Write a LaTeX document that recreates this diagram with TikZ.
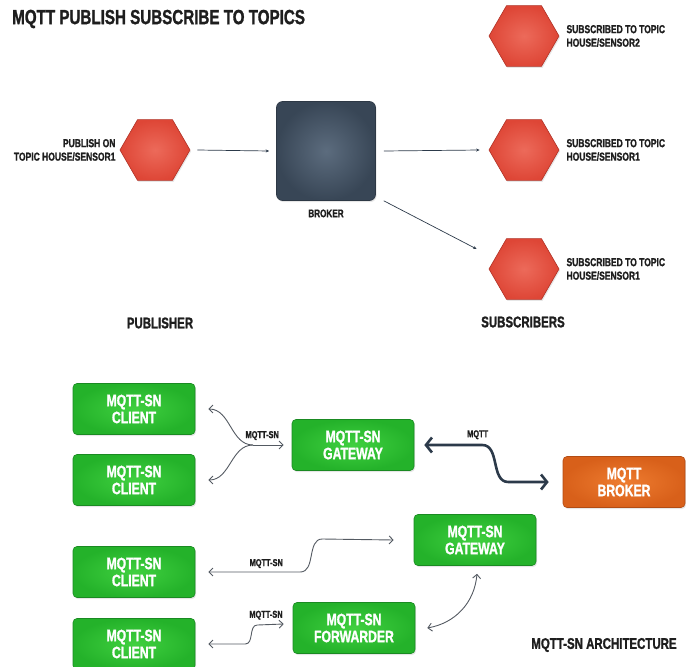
\documentclass[tikz,border=0pt]{standalone}
\usepackage{fontspec}
\setmainfont[FakeStretch=0.74, BoldFeatures={FakeBold=1.3}]{Liberation Sans}
\usepackage{xcolor}
\usepackage{tikz}
\usetikzlibrary{shapes.geometric, arrows.meta, positioning, shadows}
\definecolor{hexred}{RGB}{222, 70, 54}
\definecolor{hexredlight}{RGB}{236, 106, 90}
\definecolor{hexedge}{RGB}{176, 50, 38}
\definecolor{brokerdark}{RGB}{56, 70, 86}
\definecolor{brokerlight}{RGB}{92, 108, 126}
\definecolor{snbright}{RGB}{64, 208, 64}
\definecolor{sngreen}{RGB}{36, 178, 42}
\definecolor{snedge}{RGB}{26, 138, 34}
\definecolor{orangelight}{RGB}{238, 124, 48}
\definecolor{orangebox}{RGB}{216, 96, 26}
\definecolor{orangeedge}{RGB}{178, 76, 20}
\definecolor{wiregray}{RGB}{84, 90, 98}
\definecolor{wirenavy}{RGB}{44, 58, 74}
\definecolor{inkblack}{RGB}{30, 30, 30}

\begin{document}
\begin{tikzpicture}[
    x=1pt, y=1pt,
    font=\bfseries,
    hexnode/.style={regular polygon, regular polygon sides=6, minimum size=70pt, inner sep=0pt, draw=hexedge, line width=0.6pt, inner color=hexredlight, outer color=hexred, drop shadow={opacity=0.2, shadow xshift=1pt, shadow yshift=-1.5pt}},
    hexlabel/.style={font=\bfseries\fontsize{11.5}{13.5}\selectfont, text=inkblack, inner sep=0pt},
    sectionlabel/.style={font=\bfseries\fontsize{15.5}{18}\selectfont, text=inkblack, inner sep=0pt},
    snbox/.style={draw=snedge, line width=0.6pt, rounded corners=4pt, minimum width=122pt, minimum height=51pt, inner color=snbright, outer color=sngreen, text=white, align=center, font=\bfseries\fontsize{16.5}{17}\selectfont, drop shadow={opacity=0.2, shadow xshift=1pt, shadow yshift=-1.5pt}},
    brokerbox/.style={snbox, draw=orangeedge, inner color=orangelight, outer color=orangebox},
    wirelabel/.style={font=\bfseries\fontsize{10}{12}\selectfont, text=inkblack, inner sep=1.5pt},
    pubarrow/.style={-{Stealth[length=3.5pt, width=3pt]}, line width=0.7pt, wirenavy},
    snto/.style={-{Straight Barb[length=4pt, width=8pt]}, line width=0.9pt, wiregray},
    sn/.style={{Straight Barb[length=4pt, width=8pt]}-{Straight Barb[length=4pt, width=8pt]}, line width=0.9pt, wiregray},
    mqtt/.style={{Straight Barb[length=6pt, width=15pt]}-{Straight Barb[length=6pt, width=15pt]}, line width=2.6pt, wirenavy}
]
    \useasboundingbox (0,0) rectangle (686,-667);

    % Publish / subscribe - top half
    \node[anchor=west, font=\bfseries\fontsize{20.5}{24}\selectfont, text=inkblack, inner sep=0pt] (title) at (12,-19) {MQTT PUBLISH SUBSCRIBE TO TOPICS};

    \node[hexnode] (pub) at (155,-150) {};
    \node[hexlabel, align=right, left=4pt of pub] (publabel) {PUBLISH ON\\TOPIC HOUSE/SENSOR1};

    \node[draw=brokerdark!80!black, line width=0.6pt, rounded corners=6pt, minimum size=99pt, inner color=brokerlight, outer color=brokerdark, drop shadow={opacity=0.2, shadow xshift=1pt, shadow yshift=-1.5pt}] (broker) at (326,-151) {};
    \node[wirelabel, font=\bfseries\fontsize{11}{13}\selectfont, below=7pt of broker] (brokerlabel) {BROKER};

    \node[hexnode] (subtwo) at (524,-36) {};
    \node[hexnode] (subone) at (524,-150) {};
    \node[hexnode] (subthree) at (524,-269) {};
    \node[hexlabel, align=left, right=7pt of subtwo] (subtwolabel) {SUBSCRIBED TO TOPIC\\HOUSE/SENSOR2};
    \node[hexlabel, align=left, right=7pt of subone] (subonelabel) {SUBSCRIBED TO TOPIC\\HOUSE/SENSOR1};
    \node[hexlabel, align=left, right=7pt of subthree] (subthreelabel) {SUBSCRIBED TO TOPIC\\HOUSE/SENSOR1};

    \node[sectionlabel] (publisher) at (160,-323) {PUBLISHER};
    \node[sectionlabel] (subscribers) at (523,-322) {SUBSCRIBERS};

    \draw[pubarrow] ([xshift=7pt]pub.east) -- ([xshift=-7pt]broker.west);
    \draw[pubarrow] ([xshift=8pt]broker.east) -- ([xshift=-9pt]subone.west);
    \draw[pubarrow] ([xshift=8pt]broker.south east) -- ([xshift=-12pt, yshift=20pt]subthree.west);

    % MQTT-SN architecture - bottom half
    \node[snbox] (clone) at (134,-409) {MQTT-SN\\CLIENT};
    \node[snbox] (cltwo) at (134,-480) {MQTT-SN\\CLIENT};
    \node[snbox] (gwone) at (353,-445) {MQTT-SN\\GATEWAY};
    \node[brokerbox] (mqttbroker) at (624,-482) {MQTT\\BROKER};
    \node[snbox] (gwtwo) at (475,-540) {MQTT-SN\\GATEWAY};
    \node[snbox] (clthree) at (134,-572) {MQTT-SN\\CLIENT};
    \node[snbox] (clfour) at (134,-644) {MQTT-SN\\CLIENT};
    \node[snbox] (fwd) at (354,-628) {MQTT-SN\\FORWARDER};
    \node[sectionlabel] (archlabel) at (604,-645) {MQTT-SN ARCHITECTURE};

    \coordinate (forkone) at (253,-445);
    \draw[snto] (forkone) -- ([xshift=-8pt]gwone.west) node[pos=0.3, above=3pt, wirelabel] {MQTT-SN};
    \draw[snto] (forkone) to[out=180, in=0] ([xshift=13pt]clone.east);
    \draw[snto] (forkone) to[out=180, in=0] ([xshift=13pt]cltwo.east);

    \draw[mqtt] ([xshift=10pt]gwone.east) -- ++(58,0) node[pos=0.92, above=3pt, wirelabel] {MQTT}
        to[out=0, in=180] ++(26,-37) -- ([xshift=-14pt]mqttbroker.west);

    \draw[sn] ([xshift=13pt]clthree.east) -- ++(92,0) node[pos=0.63, above=2pt, wirelabel] {MQTT-SN}
        to[out=0, in=180] ++(22,33) -- ([xshift=-20pt]gwtwo.west);

    \draw[sn] ([xshift=13pt]clfour.east) -- ++(37,0) to[out=0, in=180] ++(12,19)
        -- ([xshift=-9pt, yshift=4pt]fwd.west) node[pos=0.33, above=3pt, wirelabel] {MQTT-SN};

    \draw[sn] ([xshift=12pt]fwd.east) to[out=10, in=-95] ([xshift=2pt, yshift=-8pt]gwtwo.south) node[pos=0.6, left=3pt, wirelabel] {MQTT-SN};
\end{tikzpicture}
\end{document}
